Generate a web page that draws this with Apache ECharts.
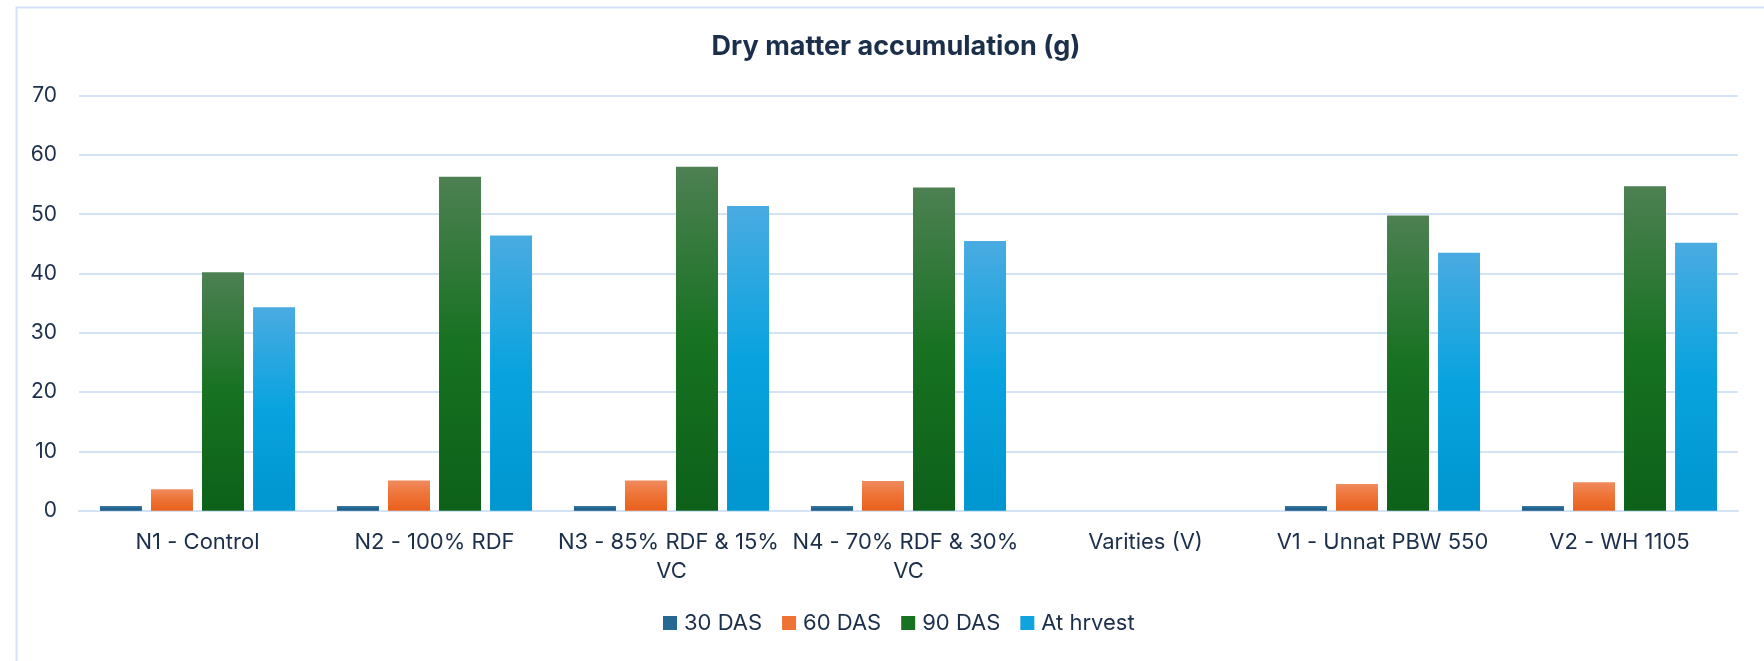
<!DOCTYPE html>
<html>
<head>
<meta charset="utf-8">
<script src="https://cdn.jsdelivr.net/npm/echarts@6/dist/echarts.min.js"></script>
<style>
html,body{margin:0;padding:0;background:#fff;}
#c{width:1764px;height:661px;}
</style>
</head>
<body>
<div id="c"></div>
<script>
const categories = ['N1 - Control', 'N2 - 100% RDF', 'N3 - 85% RDF & 15% VC', 'N4 - 70% RDF & 30% VC', 'Varities (V)', 'V1 - Unnat PBW 550', 'V2 - WH 1105'];
const seriesNames = ['30 DAS', '60 DAS', '90 DAS', 'At hrvest'];
const das30 = [0.8, 0.8, 0.8, 0.8, null, 0.8, 0.8];
const das60 = [3.6, 5.1, 5.1, 5.0, null, 4.5, 4.8];
const das90 = [40.2, 56.3, 58.0, 54.5, null, 49.8, 54.7];
const harvest = [34.3, 46.4, 51.4, 45.5, null, 43.5, 45.2];
const yTicks = [0, 10, 20, 30, 40, 50, 60, 70];

const FONT = 'Inter';
const TXT = '#1b2f4b';
function grad(top, mid, bottom) {
  return new echarts.graphic.LinearGradient(0, 0, 0, 1, [
    {offset: 0, color: top}, {offset: 0.5, color: mid}, {offset: 1, color: bottom}
  ]);
}
const fills = [
  grad('#3b7ba5', '#246690', '#17557f'),
  grad('#f08a5d', '#ee7235', '#e8601c'),
  grad('#4d8052', '#177222', '#0d6119'),
  grad('#4aabe1', '#08a3df', '#0096cf')
];
const legendColors = ['#256891', '#ee7233', '#177222', '#10a3de'];
const data = [das30, das60, das90, harvest];

const chart = echarts.init(document.getElementById('c'), null, {renderer: 'canvas'});
chart.setOption({
  animation: false,
  backgroundColor: '#ffffff',
  title: {
    text: 'Dry matter accumulation (g)',
    left: 891, top: 28, textAlign: 'center',
    textStyle: {fontFamily: FONT, fontSize: 27, fontWeight: 'bold', color: TXT}
  },
  graphic: [{
    type: 'rect', left: 14, top: 5, z: -1,
    shape: {width: 1800, height: 700},
    style: {fill: 'none', stroke: '#d3e3f5', lineWidth: 2}
  }],
  legend: {
    left: 658, top: 607,
    itemWidth: 14, itemHeight: 14, itemGap: 20,
    icon: 'rect',
    textStyle: {fontFamily: FONT, fontSize: 22, color: TXT, padding: [0, 0, 0, 2]},
    data: seriesNames.map((n, i) => ({name: n, itemStyle: {color: legendColors[i]}}))
  },
  grid: {left: 79, right: 26, top: 95.6, bottom: 150.3, containLabel: false},
  xAxis: {
    type: 'category', data: categories,
    axisTick: {show: false},
    axisLine: {show: true, lineStyle: {color: '#d3e3f5', width: 2}},
    axisLabel: {
      interval: 0, margin: 17, fontFamily: FONT, fontSize: 22, color: TXT,
      width: 240, overflow: 'break', lineHeight: 29
    }
  },
  yAxis: {
    type: 'value', min: 0, max: 70, interval: 10,
    axisLine: {show: false}, axisTick: {show: false},
    splitLine: {lineStyle: {color: '#d3e3f5', width: 2}},
    axisLabel: {
      margin: 22, fontFamily: FONT, fontSize: 21, color: TXT,
      formatter: v => yTicks.includes(v) ? String(v) : ''
    }
  },
  series: seriesNames.map((n, i) => ({
    name: n, type: 'bar', data: data[i],
    barWidth: 42, barGap: '21.5%',
    itemStyle: {color: fills[i]}
  }))
});
</script>
</body>
</html>
